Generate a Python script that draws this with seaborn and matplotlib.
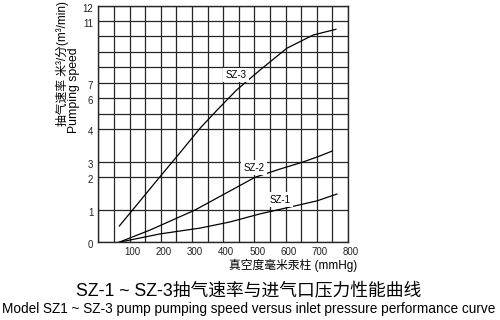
import numpy as np
import pandas as pd
import matplotlib
matplotlib.use("Agg")
import matplotlib.pyplot as plt
import matplotlib.transforms as mtransforms
import seaborn as sns

# ---- data (pressure mmHg, pumping speed m3/min) ----
sz3_x = [67, 134, 198, 262, 326, 384, 443, 518, 604, 689, 762]
sz3_y = [0.5, 1.28, 2.05, 3.29, 4.05, 5.32, 6.53, 7.82, 9.22, 10.07, 10.45]
sz2_x = [66, 166, 310, 406, 502, 582, 653, 704, 750]
sz2_y = [0.0, 0.38, 1.0, 1.5, 2.0, 2.55, 3.0, 3.17, 3.34]
sz1_x = [66, 198, 326, 422, 518, 614, 701, 765]
sz1_y = [0.0, 0.26, 0.44, 0.63, 0.88, 1.09, 1.28, 1.49]

# nonuniform printed y grid: value -> relative position
ytick_vals = [0, 1, 2, 3, 4, 5, 6, 7, 8, 9, 10, 11, 12]
ytick_pos = [0, 32.3, 65, 80, 113.3, 128.3, 144, 159.6, 175, 190.6, 206.3, 221.3, 236.6]
ytick_labels = ["0", "1", "2", "3", "4", "", "6", "7", "", "", "", "11", "12"]
xtick_vals = list(range(0, 801, 50))
xtick_labels = [str(v) if (v % 100 == 0 and v > 0) else "" for v in xtick_vals]

series = [("SZ-3", sz3_x, sz3_y), ("SZ-2", sz2_x, sz2_y), ("SZ-1", sz1_x, sz1_y)]
label_pos = {"SZ-3": (441, 7.5), "SZ-2": (499, 2.65), "SZ-1": (582, 1.31)}

sns.set_style("white")
plt.rcParams["font.family"] = ["Liberation Sans", "Noto Sans CJK SC", "DejaVu Sans"]

fig = plt.figure(figsize=(5, 3.2), dpi=100)
ax = fig.add_axes([98.3 / 500, 1 - 242.3 / 320, (348 - 98.3) / 500, (242.3 - 5.7) / 320])

vals = np.array(ytick_vals, float)
poss = np.array(ytick_pos, float)
fwd = lambda v: np.interp(v, vals, poss)
inv = lambda p: np.interp(p, poss, vals)
ax.set_yscale("function", functions=(fwd, inv))

for name, xs, ys in series:
    df = pd.DataFrame({"x": xs, "y": ys})
    sns.lineplot(data=df, x="x", y="y", ax=ax, color="black", linewidth=0.9,
                 sort=False, estimator=None)

ax.set_xlim(0, 800)
ax.set_ylim(0, 12)
ax.set_xticks(xtick_vals)
ax.set_xticklabels(xtick_labels)
ax.set_yticks(ytick_vals)
ax.set_yticklabels(ytick_labels)
ax.grid(True, color="#262626", linewidth=0.9)
ax.set_axisbelow(True)
for s in ax.spines.values():
    s.set_color("#262626")
    s.set_linewidth(1.0)
ax.tick_params(axis="both", length=0, labelsize=7, colors="#222222")
ax.tick_params(axis="x", pad=3.2)
ax.tick_params(axis="y", pad=3.6)
ax.set_xlabel("")
ax.set_ylabel("")

offx = mtransforms.ScaledTranslation(3 / 100, 0, fig.dpi_scale_trans)
for lab in ax.get_xticklabels():
    lab.set_transform(lab.get_transform() + offx)
offy = mtransforms.ScaledTranslation(0, -2 / 100, fig.dpi_scale_trans)
for lab in ax.get_yticklabels():
    lab.set_transform(lab.get_transform() + offy)

for name, (lx, ly) in label_pos.items():
    ax.text(lx, ly, name, fontsize=7, ha="center", va="center", color="black",
            bbox=dict(boxstyle="square,pad=0.25", fc="white", ec="none"), zorder=5)

fig.text(293 / 500, 1 - 265 / 320, "真空度毫米汞柱 (mmHg)", fontsize=8.5,
         ha="center", va="center", color="black")
fig.text(62.5 / 500, 1 - 126 / 320, "抽气速率 米³/分(m³/min)", fontsize=8.5,
         rotation=90, ha="center", va="bottom", color="black")
fig.text(74 / 500, 1 - 133 / 320, "Pumping speed", fontsize=8.8,
         rotation=90, ha="center", va="bottom", color="black")
fig.text(249 / 500, 1 - 291.5 / 320, "SZ-1 ~ SZ-3抽气速率与进气口压力性能曲线",
         fontsize=12.8, ha="center", va="center", color="black")
fig.text(249 / 500, 1 - 308.5 / 320,
         "Model SZ1 ~ SZ-3 pump pumping speed versus inlet pressure performance curve",
         fontsize=9.8, ha="center", va="center", color="black")

fig.savefig("out.png", dpi=100, facecolor="white")
